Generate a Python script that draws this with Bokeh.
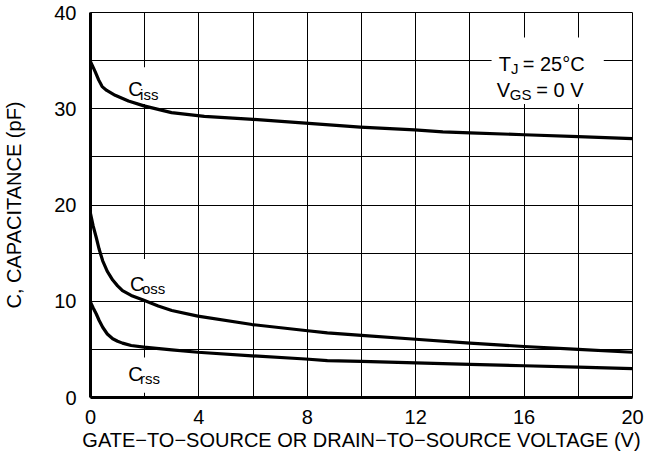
from bokeh.plotting import figure
from bokeh.models import FixedTicker, Label, Range1d
from bokeh.embed import file_html
from bokeh.resources import INLINE

# ---- data ----
v_iss = [0, 0.1, 0.18, 0.3, 0.43, 0.6, 0.91, 1.4, 1.97, 2.99, 4.2, 6, 7.93, 9.95, 11.96, 13, 14, 16, 18, 20]
c_iss = [34.9, 34.3, 33.8, 33.0, 32.3, 31.9, 31.4, 30.8, 30.3, 29.6, 29.2, 28.9, 28.5, 28.1, 27.8, 27.6, 27.5, 27.3, 27.1, 26.9]

v_oss = [0, 0.1, 0.21, 0.32, 0.45, 0.62, 0.82, 1.0, 1.18, 1.5, 1.97, 2.5, 3.0, 3.96, 5.96, 7.93, 8.74, 10, 12, 14, 16, 18, 20]
c_oss = [19.1, 17.8, 16.65, 15.4, 14.2, 13.1, 12.2, 11.6, 11.1, 10.6, 10.1, 9.5, 9.04, 8.45, 7.58, 6.96, 6.72, 6.45, 6.05, 5.65, 5.3, 5.0, 4.7]

v_rss = [0, 0.1, 0.21, 0.32, 0.45, 0.62, 0.82, 1.0, 1.18, 1.5, 1.97, 3.0, 3.96, 5.96, 7.93, 8.74, 10, 12, 14, 16, 18, 20]
c_rss = [9.9, 9.3, 8.7, 8.0, 7.3, 6.6, 6.1, 5.85, 5.65, 5.4, 5.23, 4.95, 4.7, 4.33, 4.0, 3.84, 3.75, 3.6, 3.45, 3.3, 3.15, 3.0]

x_ticks = [0, 4, 8, 12, 16, 20]
y_ticks = [0, 10, 20, 30, 40]
x_grid = [0, 2, 4, 6, 8, 10, 12, 14, 16, 18, 20]
y_grid = [0, 5, 10, 15, 20, 25, 30, 35, 40]

FONT = "Liberation Sans"

p = figure(width=646, height=453, output_backend="svg", toolbar_location=None,
           x_range=Range1d(0, 20), y_range=Range1d(0, 40),
           min_border_left=85, min_border_top=12, min_border_right=14, min_border_bottom=56)

p.outline_line_color = "black"
p.outline_line_width = 1

for ax in (p.xaxis[0], p.yaxis[0]):
    ax.axis_line_width = 3
    ax.axis_line_color = "black"
    ax.major_tick_line_color = None
    ax.minor_tick_line_color = None
    ax.major_label_text_font = FONT
    ax.major_label_text_font_size = "20px"
    ax.major_label_text_color = "black"
    ax.axis_label_text_font = FONT
    ax.axis_label_text_font_size = "20px"
    ax.axis_label_text_font_style = "normal"
    ax.axis_label_text_color = "black"

p.xaxis.major_label_standoff = 6
p.yaxis.major_label_standoff = 8

p.xaxis.ticker = FixedTicker(ticks=x_ticks)
p.yaxis.ticker = FixedTicker(ticks=y_ticks)
p.xgrid.ticker = FixedTicker(ticks=x_grid)
p.ygrid.ticker = FixedTicker(ticks=y_grid)
for g in (p.xgrid[0], p.ygrid[0]):
    g.grid_line_color = "black"
    g.grid_line_width = 1
    g.grid_line_alpha = 1.0

p.yaxis.axis_label = "C, CAPACITANCE (pF)"
p.yaxis.axis_label_standoff = 26
p.xaxis.axis_label = "GATE\u2212TO\u2212SOURCE OR DRAIN\u2212TO\u2212SOURCE VOLTAGE (V)"
p.xaxis.axis_label_standoff = 2

# white patches that break the grid behind the labels
p.quad(left=[1.21, 1.21, 1.21, 14.8], right=[2.93, 3.1, 2.93, 18.94],
       bottom=[30.5, 10.15, 0.5, 30.5], top=[34.3, 14.4, 4.16, 37.4],
       fill_color="white", line_color=None)

for xs, ys in ((v_iss, c_iss), (v_oss, c_oss), (v_rss, c_rss)):
    p.line(xs, ys, line_color="black", line_width=3.2, line_join="round")

def txt(x, y, s, size):
    p.add_layout(Label(x=x, y=y, text=s, text_font=FONT, text_font_size=size,
                       text_color="black", text_baseline="alphabetic", text_align="left"))

# curve labels
txt(1.39, 32.1, "C", "20px"); txt(1.83, 31.5, "iss", "15px")
txt(1.46, 11.84, "C", "20px"); txt(1.90, 11.3, "oss", "15px")
txt(1.39, 2.49, "C", "20px"); txt(1.83, 1.97, "rss", "15px")

# conditions box
txt(15.06, 34.7, "T", "20px"); txt(15.52, 34.2, "J", "15px"); txt(15.95, 34.7, " = 25°C", "20px")
txt(14.99, 31.9, "V", "20px"); txt(15.47, 31.5, "GS", "15px"); txt(16.45, 31.9, " = 0 V", "20px")

open("out.html", "w").write(file_html(p, INLINE))
